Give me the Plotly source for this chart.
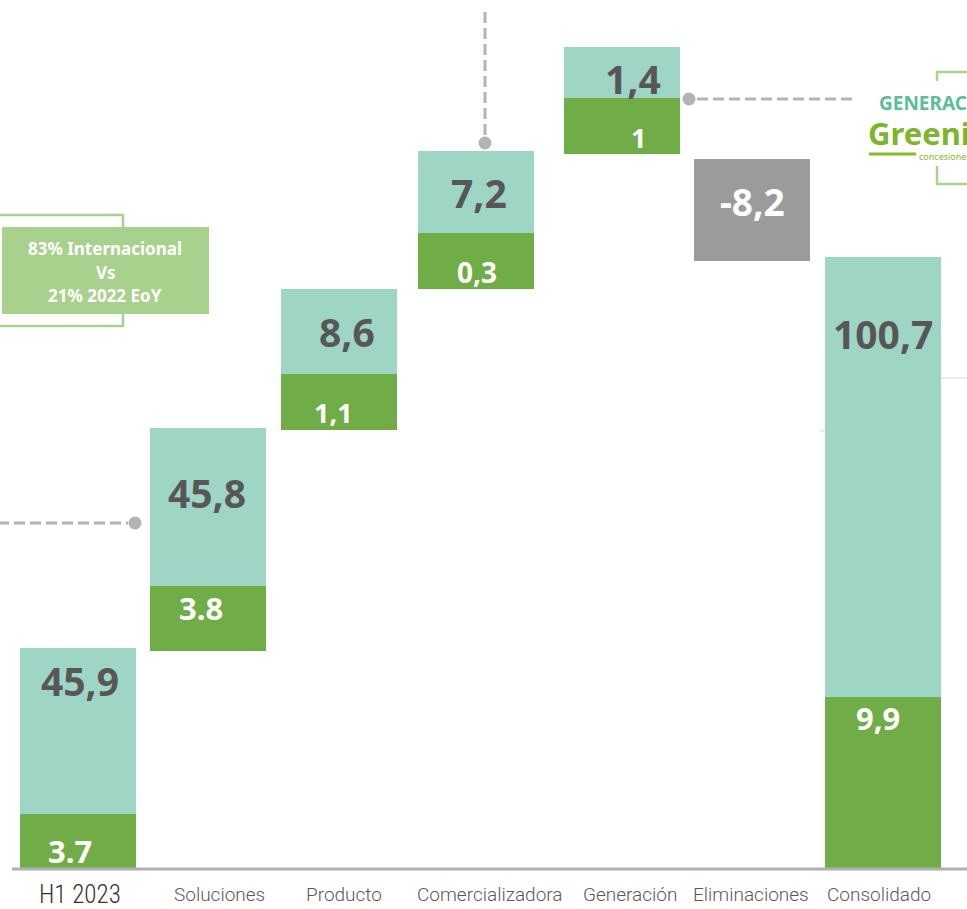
import plotly.graph_objects as go

# ---------------- data ----------------
categories = ["H1 2023", "Soluciones", "Producto", "Comercializadora",
              "Generación", "Eliminaciones", "Consolidado"]
# bar extents in chart units (drawn heights as they appear in the source)
bar_base = [0, 217, 438, 579, 714, 0, 0]
green_h = [54, 65, 56, 56, 56, 0, 171]
teal_h = [166, 158, 85, 82, 51, 0, 440]
elim_base = 607
elim_h = 102
# displayed labels
green_labels = ["3.7", "3.8", "1,1", "0,3", "1", "", "9,9"]
teal_labels = ["45,9", "45,8", "8,6", "7,2", "1,4", "", "100,7"]
elim_label = "-8,2"

# ---------------- layout helpers ----------------
W, H = 967, 909
BASE_PX = 868          # pixel row of value 0


def v(py):             # pixel row -> chart value
    return BASE_PX - py


bar_x = [78, 207.5, 339, 476, 622, 752, 883]
bar_w = 116
TEAL = "#9fd5c4"
GREEN = "#70ad47"
GREY = "#9b9b9b"
LIGHTG = "#a9d18e"
DASH = "#b3b3b3"
LBL = "#575757"

fig = go.Figure()

idx = [i for i in range(len(categories)) if green_h[i] > 0]
fig.add_trace(go.Bar(
    x=[bar_x[i] for i in idx], y=[green_h[i] for i in idx],
    base=[bar_base[i] for i in idx], width=bar_w,
    marker=dict(color=GREEN, line=dict(width=0)), hoverinfo="skip"))
fig.add_trace(go.Bar(
    x=[bar_x[i] for i in idx], y=[teal_h[i] for i in idx],
    base=[bar_base[i] + green_h[i] for i in idx], width=bar_w,
    marker=dict(color=TEAL, line=dict(width=0)), hoverinfo="skip"))
fig.add_trace(go.Bar(
    x=[bar_x[5]], y=[elim_h], base=[elim_base], width=bar_w,
    marker=dict(color=GREY, line=dict(width=0)), hoverinfo="skip"))

# dots at the ends of the dashed callout lines
fig.add_trace(go.Scatter(
    x=[135, 485, 689], y=[v(523), v(143), v(99)], mode="markers",
    marker=dict(size=13, color=DASH), hoverinfo="skip"))

shapes = []
# baseline
shapes.append(dict(type="line", xref="x", yref="y", x0=12, x1=W + 5,
                   y0=v(869), y1=v(869), line=dict(color="#b0b0b0", width=3),
                   layer="above"))
# dashed callouts
dash_style = "11px,5px"
shapes.append(dict(type="line", x0=-2, x1=128, y0=v(523), y1=v(523),
                   line=dict(color=DASH, width=3, dash=dash_style), layer="below"))
shapes.append(dict(type="line", x0=485, x1=485, y0=v(12), y1=v(136),
                   line=dict(color=DASH, width=3, dash=dash_style), layer="below"))
shapes.append(dict(type="line", x0=697, x1=857, y0=v(99), y1=v(99),
                   line=dict(color=DASH, width=3, dash=dash_style), layer="below"))
# faint lines near Consolidado
shapes.append(dict(type="line", x0=820, x1=840, y0=v(431), y1=v(431),
                   line=dict(color="#d9d9d9", width=1), layer="below"))
shapes.append(dict(type="line", x0=936, x1=W + 2, y0=v(378), y1=v(378),
                   line=dict(color="#d9d9d9", width=1), layer="below"))
# left bracket + box
shapes.append(dict(type="path",
                   path=f"M -3 {v(215)} L 123 {v(215)} L 123 {v(326)} L -3 {v(326)}",
                   line=dict(color=LIGHTG, width=2.5), layer="above"))
shapes.append(dict(type="rect", x0=2, x1=209, y0=v(314), y1=v(227),
                   fillcolor=LIGHTG, line=dict(width=0), layer="above"))
# right bracket
shapes.append(dict(type="path",
                   path=f"M {W+3} {v(72)} L 937 {v(72)} L 937 {v(81)}",
                   line=dict(color=LIGHTG, width=2.5), layer="above"))
shapes.append(dict(type="path",
                   path=f"M 937 {v(166)} L 937 {v(184)} L {W+3} {v(184)}",
                   line=dict(color=LIGHTG, width=2.5), layer="above"))
# logo underline
shapes.append(dict(type="line", x0=869, x1=916, y0=v(154), y1=v(154),
                   line=dict(color="#86bb2a", width=3), layer="above"))

ann = []
NUM_FONT = "Noto Sans"

teal_pos = [(80, 680), (207, 492), (347, 331), (479, 192), (633, 78), None, (883, 333)]
green_pos = [(70, 851), (201, 608), (333, 412), (477, 272), (638, 137), None, (878, 718)]
green_size = [31, 31, 27, 28, 27, 0, 31]
for i in range(len(categories)):
    if teal_pos[i]:
        x, py = teal_pos[i]
        ann.append(dict(x=x, y=v(py), text=teal_labels[i], showarrow=False,
                        xanchor="center", yanchor="middle",
                        font=dict(family=NUM_FONT, size=39, color=LBL, weight="bold")))
    if green_pos[i]:
        x, py = green_pos[i]
        ann.append(dict(x=x, y=v(py), text=green_labels[i], showarrow=False,
                        xanchor="center", yanchor="middle",
                        font=dict(family=NUM_FONT, size=green_size[i], color="white",
                                  weight="bold")))
ann.append(dict(x=752, y=v(201), text=elim_label, showarrow=False,
                xanchor="center", yanchor="middle",
                font=dict(family=NUM_FONT, size=37, color="white", weight="bold")))

# category labels
cat_x = [80, 219, 344, 490, 630, 751, 879]
for i, c in enumerate(categories):
    if i == 0:
        f = dict(family="Liberation Sans Narrow, Roboto Condensed, Roboto", size=25,
                 color="#333333", weight=300)
    else:
        f = dict(family="Roboto", size=19, color="#595959", weight=300)
    ann.append(dict(x=cat_x[i], y=v(894), text=c, showarrow=False,
                    xanchor="center", yanchor="middle", font=f))

# box text
box_lines = ["83% Internacional", "Vs", "21% 2022 EoY"]
for t, py in zip(box_lines, [248, 272, 295]):
    ann.append(dict(x=105, y=v(py), text=t, showarrow=False,
                    xanchor="center", yanchor="middle",
                    font=dict(family=NUM_FONT, size=17, color="white", weight="bold")))

# right-side logo block
ann.append(dict(x=877, y=v(103), text="GENERACIÓN", showarrow=False,
                xanchor="left", yanchor="middle",
                font=dict(family=NUM_FONT, size=19, color="#5cbd9b", weight="bold")))
ann.append(dict(x=866, y=v(133), text="Greening", showarrow=False,
                xanchor="left", yanchor="middle",
                font=dict(family=NUM_FONT, size=31, color="#7db52c", weight="bold")))
ann.append(dict(x=917, y=v(156), text="concesiones", showarrow=False,
                xanchor="left", yanchor="middle",
                font=dict(family=NUM_FONT, size=9, color="#86bb2a")))

fig.update_layout(
    width=W, height=H, autosize=False,
    margin=dict(l=0, r=0, t=0, b=0, pad=0),
    paper_bgcolor="white", plot_bgcolor="white",
    barmode="overlay", bargap=0, showlegend=False,
    xaxis=dict(range=[0, W], visible=False, fixedrange=True),
    yaxis=dict(range=[v(H), v(0)], visible=False, fixedrange=True),
    shapes=shapes, annotations=ann,
)

fig.write_html("out.html", config={"displayModeBar": False})

# remove the default page margin so the figure sits at the window's corner
with open("out.html", "r", encoding="utf-8") as fh:
    html = fh.read()
html = html.replace("<body>", '<body style="margin:0;padding:0;overflow:hidden">', 1)
with open("out.html", "w", encoding="utf-8") as fh:
    fh.write(html)
